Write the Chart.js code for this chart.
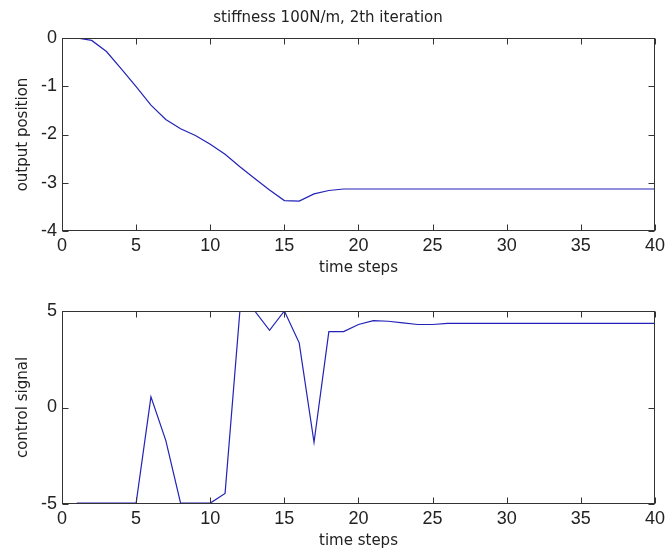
<!DOCTYPE html>
<html>
<head>
<meta charset="utf-8">
<script src="https://cdn.jsdelivr.net/npm/chart.js@4.4.1/dist/chart.umd.min.js"></script>
<style>
  body { margin: 0; background: #fff; }
  .wrap { position: absolute; left: 0; width: 669px; }
  #top { top: 0; height: 292px; }
  #bot { top: 292px; height: 264px; }
</style>
</head>
<body>
<div class="wrap" id="top"><canvas id="posChart"></canvas></div>
<div class="wrap" id="bot"><canvas id="ctrlChart"></canvas></div>
<script>
// time step index 1..40
const steps = [1,2,3,4,5,6,7,8,9,10,11,12,13,14,15,16,17,18,19,20,
  21,22,23,24,25,26,27,28,29,30,31,32,33,34,35,36,37,38,39,40];

// output position
const outputPosition = [0, -0.05, -0.28, -0.64, -1.01, -1.39, -1.69, -1.88, -2.02, -2.2,
  -2.41, -2.67, -2.91, -3.15, -3.37, -3.38, -3.23, -3.16, -3.13, -3.13,
  -3.13, -3.13, -3.13, -3.13, -3.13, -3.13, -3.13, -3.13, -3.13, -3.13,
  -3.13, -3.13, -3.13, -3.13, -3.13, -3.13, -3.13, -3.13, -3.13, -3.13];

// control signal
const controlSignal = [-4.95, -4.95, -4.95, -4.95, -4.95, 0.55, -1.7, -4.95, -4.95, -4.95,
  -4.45, 5, 5, 4.0, 5, 3.35, -1.8, 3.93, 3.93, 4.3,
  4.5, 4.47, 4.38, 4.3, 4.3, 4.36, 4.36, 4.36, 4.36, 4.36,
  4.36, 4.36, 4.36, 4.36, 4.36, 4.36, 4.36, 4.36, 4.36, 4.36];

const xTicks = [0, 5, 10, 15, 20, 25, 30, 35, 40];
const posTicks = [-4, -3, -2, -1, 0];
const ctrlTicks = [-5, 0, 5];

const titleText = 'stiffness 100N/m, 2th iteration';
const xLabel = 'time steps';

const tickFont = { family: "'Liberation Sans Narrow', 'Liberation Sans', Arial, sans-serif", size: 18 };
const labelFont = { family: "'DejaVu Sans', sans-serif", size: 15, weight: 'normal' };
const inkColor = '#222';
const lineColor = '#2222b8';

// MATLAB style box with inward tick marks on all four sides
const boxPlugin = {
  id: 'box',
  afterDraw(chart, args, pluginOpts) {
    const {ctx, chartArea: a, scales} = chart;
    const l = Math.round(a.left) + 0.5, r = Math.round(a.right) - 0.5;
    const t = Math.round(a.top) + 0.5, b = Math.round(a.bottom) - 0.5;
    const len = 6;
    ctx.save();
    ctx.strokeStyle = '#333';
    ctx.lineWidth = 1;
    ctx.strokeRect(l, t, r - l, b - t);
    ctx.beginPath();
    xTicks.forEach(v => {
      const px = Math.round(scales.x.getPixelForValue(v)) + 0.5;
      ctx.moveTo(px, b); ctx.lineTo(px, b - len);
      ctx.moveTo(px, t); ctx.lineTo(px, t + len);
    });
    pluginOpts.yTicks.forEach(v => {
      const py = Math.round(scales.y.getPixelForValue(v)) + 0.5;
      ctx.moveTo(l, py); ctx.lineTo(l + len, py);
      ctx.moveTo(r, py); ctx.lineTo(r - len, py);
    });
    ctx.stroke();
    ctx.restore();
  }
};

function makeChart(el, values, yTicks, yLabel, opts) {
  return new Chart(el, {
    type: 'line',
    data: {
      labels: steps,
      datasets: [{
        data: values,
        borderColor: lineColor,
        borderWidth: 1.2,
        pointRadius: 0,
        tension: 0,
        fill: false
      }]
    },
    options: {
      responsive: true,
      maintainAspectRatio: false,
      animation: false,
      layout: { padding: { left: 0, right: 13, top: opts.padTop, bottom: 0 } },
      plugins: {
        legend: { display: false },
        tooltip: { enabled: false },
        box: { yTicks: yTicks },
        title: {
          display: !!opts.title,
          text: opts.title || '',
          color: inkColor,
          font: labelFont,
          padding: { top: 9, bottom: 11 }
        }
      },
      scales: {
        x: {
          type: 'linear',
          min: 0, max: 40,
          grid: { display: false, drawTicks: false },
          border: { display: false },
          afterBuildTicks: s => { s.ticks = xTicks.map(v => ({ value: v })); },
          afterFit: s => { s.height = opts.xHeight; },
          ticks: { color: inkColor, font: tickFont, padding: 4, maxRotation: 0 },
          title: { display: true, text: xLabel, color: inkColor, font: labelFont,
            padding: { top: 0, bottom: opts.xTitlePad } }
        },
        y: {
          min: yTicks[0], max: yTicks[yTicks.length - 1],
          grid: { display: false, drawTicks: false },
          border: { display: false },
          afterBuildTicks: s => { s.ticks = yTicks.map(v => ({ value: v })); },
          afterFit: s => { s.width = 62; },
          ticks: { color: inkColor, font: tickFont, padding: 5 },
          title: { display: true, text: yLabel, color: inkColor, font: labelFont,
            padding: { top: 14, bottom: 0 } }
        }
      }
    },
    plugins: [boxPlugin]
  });
}

makeChart(document.getElementById('posChart'), outputPosition, posTicks, 'output position',
  { title: titleText, padTop: 0, xHeight: 61, xTitlePad: 14.5 });
makeChart(document.getElementById('ctrlChart'), controlSignal, ctrlTicks, 'control signal',
  { title: null, padTop: 19, xHeight: 52, xTitlePad: 6 });
</script>
</body>
</html>
